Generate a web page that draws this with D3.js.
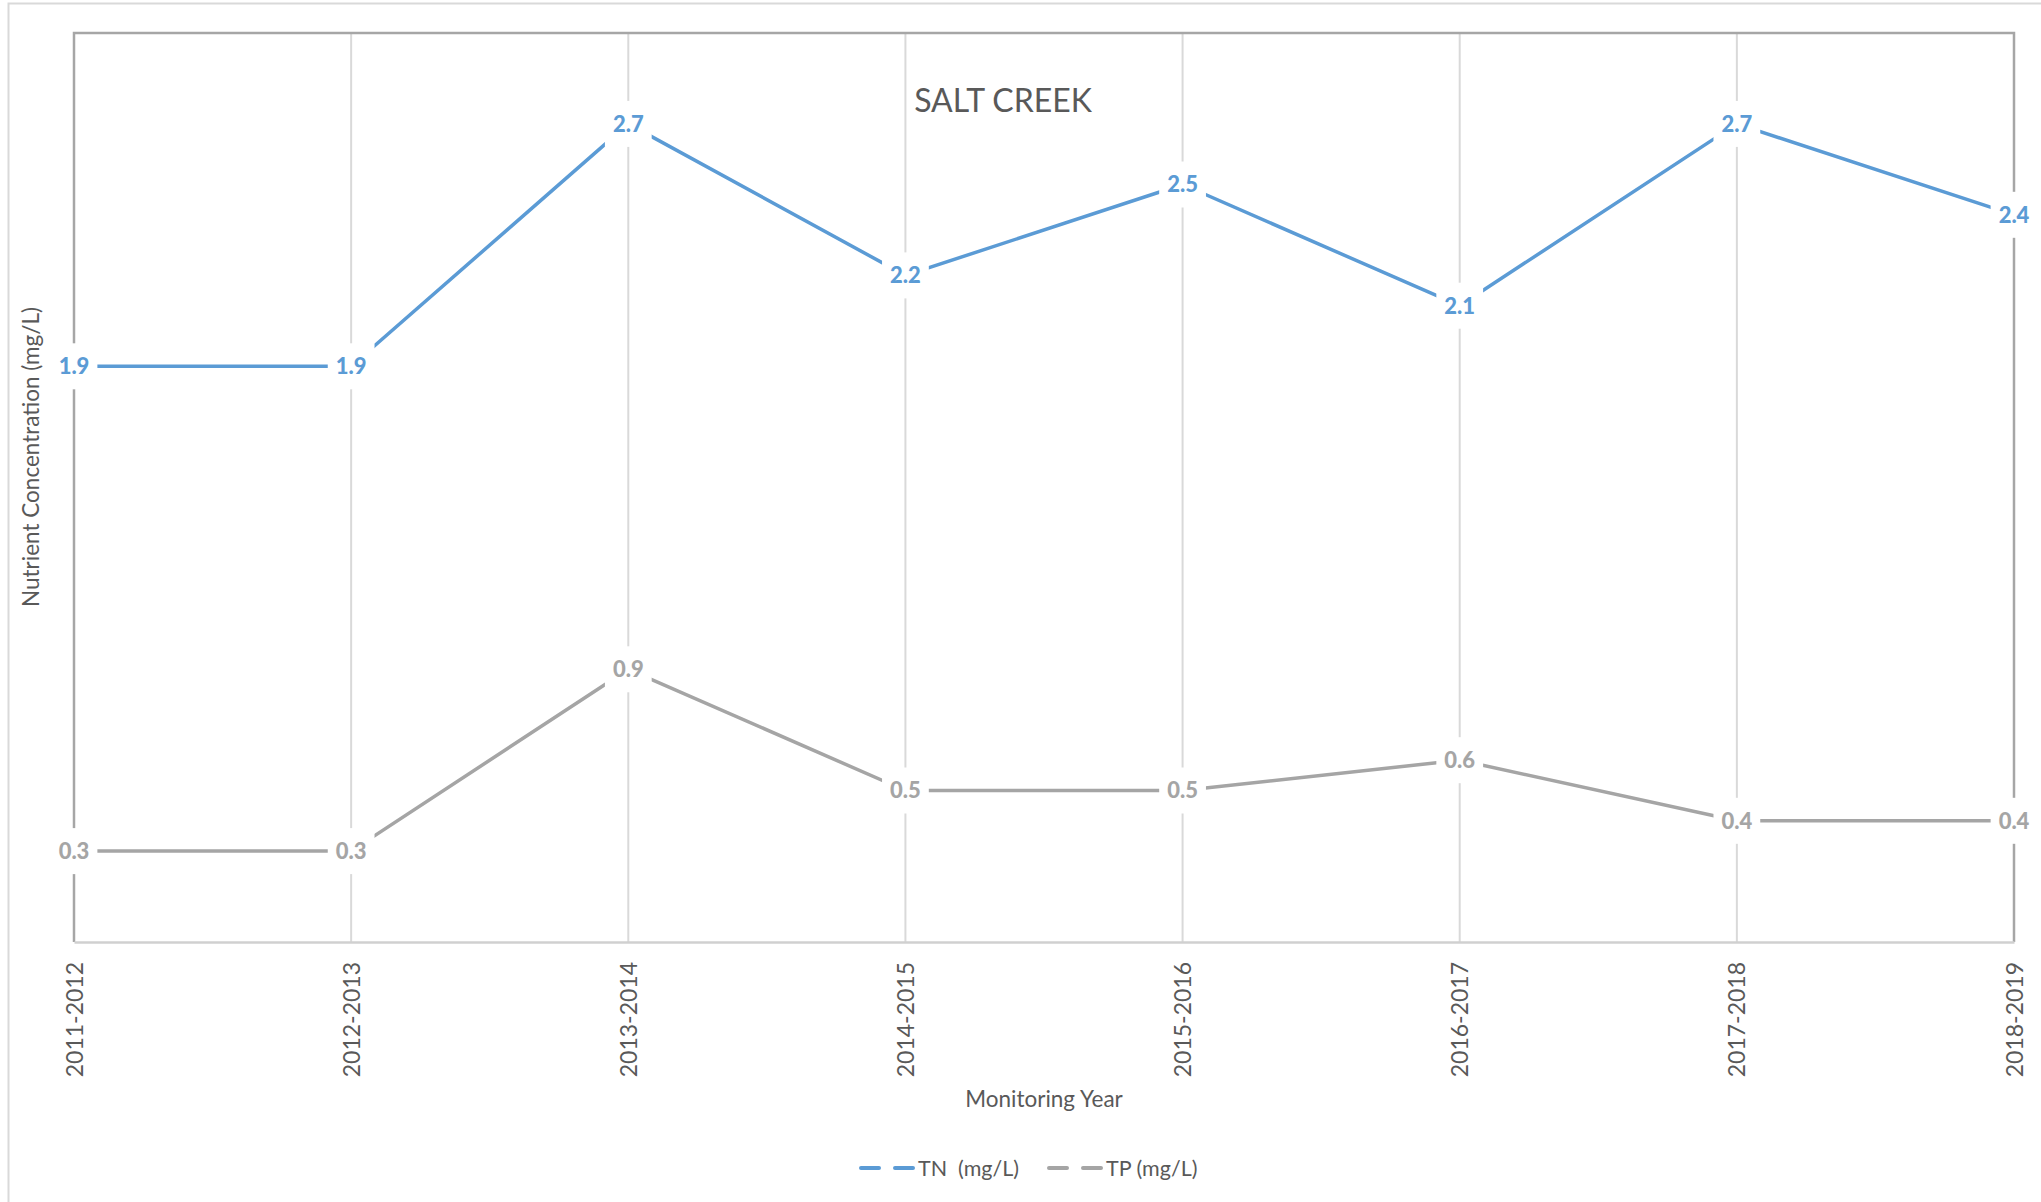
<!DOCTYPE html>
<html>
<head>
<meta charset="utf-8">
<script src="https://cdn.jsdelivr.net/npm/d3@7"></script>
<style>
  html, body { margin: 0; padding: 0; background: #fff; }
  svg { display: block; }
  text { font-family: Lato, "Open Sans", sans-serif; }
</style>
</head>
<body>
<svg id="chart" width="2041" height="1202"></svg>
<script>
// Monitoring years and annual mean nutrient concentrations (mg/L)
const years = ["2011-2012", "2012-2013", "2013-2014", "2014-2015",
               "2015-2016", "2016-2017", "2017-2018", "2018-2019"];
const tnValues = [1.9, 1.9, 2.7, 2.2, 2.5, 2.1, 2.7, 2.4];
const tpValues = [0.3, 0.3, 0.9, 0.5, 0.5, 0.6, 0.4, 0.4];
const seriesNames = ["TN  (mg/L)", "TP (mg/L)"];
const yDomain = [0, 3];

const W = 2041, H = 1202;
const plot = { left: 74, right: 2014, top: 33, bottom: 942 };
const colors = { TN: "#5b9bd5", TP: "#a5a5a5" };
const textColor = "#595959";

const svg = d3.select("#chart");

// chart area border
svg.append("rect")
  .attr("x", 8.5).attr("y", 3.5)
  .attr("width", W + 20).attr("height", H + 20)
  .attr("fill", "#fff").attr("stroke", "#d9d9d9").attr("stroke-width", 2);

const x = d3.scalePoint().domain(years).range([plot.left, plot.right]);
const y = d3.scaleLinear().domain(yDomain).range([plot.bottom, plot.top]);

// vertical gridlines at each category
svg.append("g")
  .selectAll("line")
  .data(years.slice(1, -1))
  .join("line")
  .attr("x1", d => x(d)).attr("x2", d => x(d))
  .attr("y1", plot.top).attr("y2", plot.bottom)
  .attr("stroke", "#d9d9d9").attr("stroke-width", 2);

// plot area border (top, left, right)
svg.append("path")
  .attr("d", `M${plot.left},${plot.bottom}V${plot.top}H${plot.right}V${plot.bottom}`)
  .attr("fill", "none").attr("stroke", "#a6a6a6").attr("stroke-width", 2.5);

// category axis
const xAxis = svg.append("g")
  .attr("transform", `translate(0,${plot.bottom})`)
  .call(d3.axisBottom(x).tickSize(0).tickPadding(0));
xAxis.select(".domain").attr("stroke", "#d0d0d0").attr("stroke-width", 2.5);
xAxis.selectAll(".tick text")
  .attr("transform", "rotate(-90)")
  .attr("x", -20).attr("y", 0).attr("dy", "0.35em")
  .attr("text-anchor", "end")
  .attr("fill", textColor)
  .style("font-family", "Lato, sans-serif")
  .style("font-size", "23px");

// series lines
const series = [
  { key: "TN", name: seriesNames[0], values: tnValues },
  { key: "TP", name: seriesNames[1], values: tpValues }
];
const line = d3.line()
  .x((d, i) => x(years[i]))
  .y(d => y(d));

svg.append("g")
  .selectAll("path")
  .data(series)
  .join("path")
  .attr("d", s => line(s.values))
  .attr("fill", "none")
  .attr("stroke", s => colors[s.key])
  .attr("stroke-width", 3.5)
  .attr("stroke-linejoin", "round");

// value labels, centred on each point with a white backing
series.forEach(s => {
  const g = svg.append("g");
  s.values.forEach((v, i) => {
    const cx = x(years[i]), cy = y(v);
    const lg = g.append("g").attr("transform", `translate(${cx},${cy})`);
    const bg = lg.append("rect").attr("fill", "#fff");
    const t = lg.append("text")
      .attr("text-anchor", "middle")
      .attr("dy", "0.36em")
      .attr("fill", colors[s.key])
      .style("font-weight", "900")
      .style("font-size", "22px")
      .text(v.toFixed(1));
    const w = t.node().getComputedTextLength();
    bg.attr("x", -w / 2 - 8).attr("y", -23)
      .attr("width", w + 16).attr("height", 46);
  });
});

// title
svg.append("text")
  .attr("x", 1003).attr("y", 112)
  .attr("text-anchor", "middle")
  .attr("fill", textColor)
  .style("font-size", "32px")
  .text("SALT CREEK");

// axis titles
svg.append("text")
  .attr("transform", `translate(39,457) rotate(-90)`)
  .attr("text-anchor", "middle")
  .attr("fill", textColor)
  .style("font-size", "22.5px")
  .text("Nutrient Concentration (mg/L)");

svg.append("text")
  .attr("x", 1044).attr("y", 1107)
  .attr("text-anchor", "middle")
  .attr("fill", textColor)
  .style("font-size", "22.5px")
  .text("Monitoring Year");

// legend
const legendItems = [
  { key: "TN", name: seriesNames[0], x0: 859 },
  { key: "TP", name: seriesNames[1], x0: 1047 }
];
const lgY = 1168;
const legend = svg.append("g");
legendItems.forEach(it => {
  legend.append("line")
    .attr("x1", it.x0 + 2).attr("x2", it.x0 + 54)
    .attr("y1", lgY).attr("y2", lgY)
    .attr("stroke", colors[it.key]).attr("stroke-width", 4)
    .attr("stroke-dasharray", "18 16")
    .attr("stroke-linecap", "round");
  legend.append("text")
    .attr("x", it.x0 + 59).attr("y", lgY).attr("dy", "0.36em")
    .attr("fill", textColor)
    .style("font-size", "21.5px")
    .style("white-space", "pre")
    .attr("xml:space", "preserve")
    .text(it.name);
});
</script>
</body>
</html>
